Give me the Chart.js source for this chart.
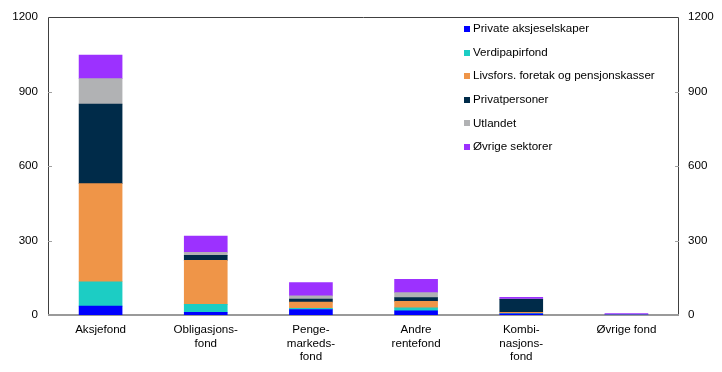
<!DOCTYPE html>
<html>
<head>
<meta charset="utf-8">
<script src="https://cdn.jsdelivr.net/npm/chart.js@4/dist/chart.umd.min.js"></script>
<style>
  html, body { margin: 0; padding: 0; background: #fff; }
  #wrap { width: 722px; height: 372px; }
</style>
</head>
<body>
<div id="wrap"><canvas id="chart"></canvas></div>
<script>
const categories = [
  ['Aksjefond'],
  ['Obligasjons-', 'fond'],
  ['Penge-', 'markeds-', 'fond'],
  ['Andre', 'rentefond'],
  ['Kombi-', 'nasjons-', 'fond'],
  ['Øvrige fond'],
]

const privateAksjeselskaper = [36, 11, 22, 17, 5, 0]
const verdipapirfond = [98, 32, 5, 12, 1, 0]
const livsforsPensjon = [395, 177, 25, 26, 5, 0]
const privatpersoner = [320, 20, 12, 15, 52, 0]
const utlandet = [103, 12, 13, 20, 1, 0]
const ovrigeSektorer = [95, 66, 54, 54, 7, 6]

const yTicks = [0, 300, 600, 900, 1200]

const FONT = 'Arial, "Liberation Sans", sans-serif'
const FONT_SIZE = 11.6

// frame, inner tick marks and legend drawn on the canvas
const framePlugin = {
  id: 'frame',
  beforeDatasetsDraw(chart) {
    const { ctx, chartArea: a } = chart
    ctx.save()
    ctx.strokeStyle = '#9a9a9a'
    ctx.lineWidth = 2
    ctx.beginPath()
    ctx.moveTo(a.left, a.bottom)
    ctx.lineTo(a.right, a.bottom)
    ctx.stroke()
    ctx.restore()
  },
  afterDraw(chart) {
    const { ctx, chartArea: a } = chart
    const y = chart.scales.y
    ctx.save()
    ctx.strokeStyle = '#404040'
    ctx.lineWidth = 1
    ctx.beginPath()
    ctx.moveTo(a.left + 0.5, a.bottom - 1)
    ctx.lineTo(a.left + 0.5, a.top + 0.5)
    ctx.lineTo(a.right - 0.5, a.top + 0.5)
    ctx.lineTo(a.right - 0.5, a.bottom - 1)
    ctx.stroke()

    ctx.strokeStyle = '#a0a0a0'
    yTicks.slice(1, -1).forEach((v) => {
      const py = Math.round(y.getPixelForValue(v)) + 0.5
      ctx.beginPath()
      ctx.moveTo(a.left, py)
      ctx.lineTo(a.left + 4, py)
      ctx.moveTo(a.right - 4, py)
      ctx.lineTo(a.right, py)
      ctx.stroke()
    })

    // legend
    ctx.font = FONT_SIZE + 'px ' + FONT
    ctx.textBaseline = 'middle'
    chart.data.datasets.forEach((ds, i) => {
      const cy = 29 + i * 23.6
      ctx.fillStyle = ds.backgroundColor
      ctx.fillRect(464, Math.round(cy) - 3, 6, 6)
      ctx.fillStyle = '#000'
      ctx.fillText(ds.label, 473, cy)
    })
    ctx.restore()
  },
}

const makeSet = (label, data, color) => ({
  label,
  data,
  backgroundColor: color,
  borderWidth: 0,
  barThickness: 43,
  yAxisID: 'y',
})

const yTickOpts = (pad) => ({
  color: '#000',
  padding: pad,
  font: { family: FONT, size: FONT_SIZE },
  callback: (v) => String(v),
})

new Chart(document.getElementById('chart'), {
  type: 'bar',
  plugins: [framePlugin],
  data: {
    labels: categories,
    datasets: [
      makeSet('Private aksjeselskaper', privateAksjeselskaper, '#0000ff'),
      makeSet('Verdipapirfond', verdipapirfond, '#1ccdc4'),
      makeSet('Livsfors. foretak og pensjonskasser', livsforsPensjon, '#ef9548'),
      makeSet('Privatpersoner', privatpersoner, '#002b49'),
      makeSet('Utlandet', utlandet, '#b1b2b4'),
      makeSet('Øvrige sektorer', ovrigeSektorer, '#9c31ff'),
    ],
  },
  options: {
    responsive: true,
    maintainAspectRatio: false,
    animation: false,
    layout: { padding: { top: 17, left: 0, right: 0, bottom: 0 } },
    plugins: {
      legend: { display: false },
      tooltip: { enabled: false },
    },
    scales: {
      x: {
        stacked: true,
        grid: { display: false, drawTicks: false },
        border: { display: false },
        ticks: {
          color: '#000',
          padding: 8,
          maxRotation: 0,
          autoSkip: false,
          font: { family: FONT, size: FONT_SIZE, lineHeight: 1.18 },
        },
        afterFit: (s) => { s.height = 57 },
      },
      y: {
        stacked: true,
        position: 'left',
        min: 0,
        max: 1200,
        grid: { display: false, drawTicks: false },
        border: { display: false },
        afterBuildTicks: (s) => { s.ticks = yTicks.map((v) => ({ value: v })) },
        ticks: yTickOpts(10),
        afterFit: (s) => { s.width = 48 },
      },
      y2: {
        position: 'right',
        min: 0,
        max: 1200,
        grid: { display: false, drawTicks: false },
        border: { display: false },
        afterBuildTicks: (s) => { s.ticks = yTicks.map((v) => ({ value: v })) },
        ticks: yTickOpts(9),
        afterFit: (s) => { s.width = 43 },
      },
    },
  },
})
</script>
</body>
</html>
